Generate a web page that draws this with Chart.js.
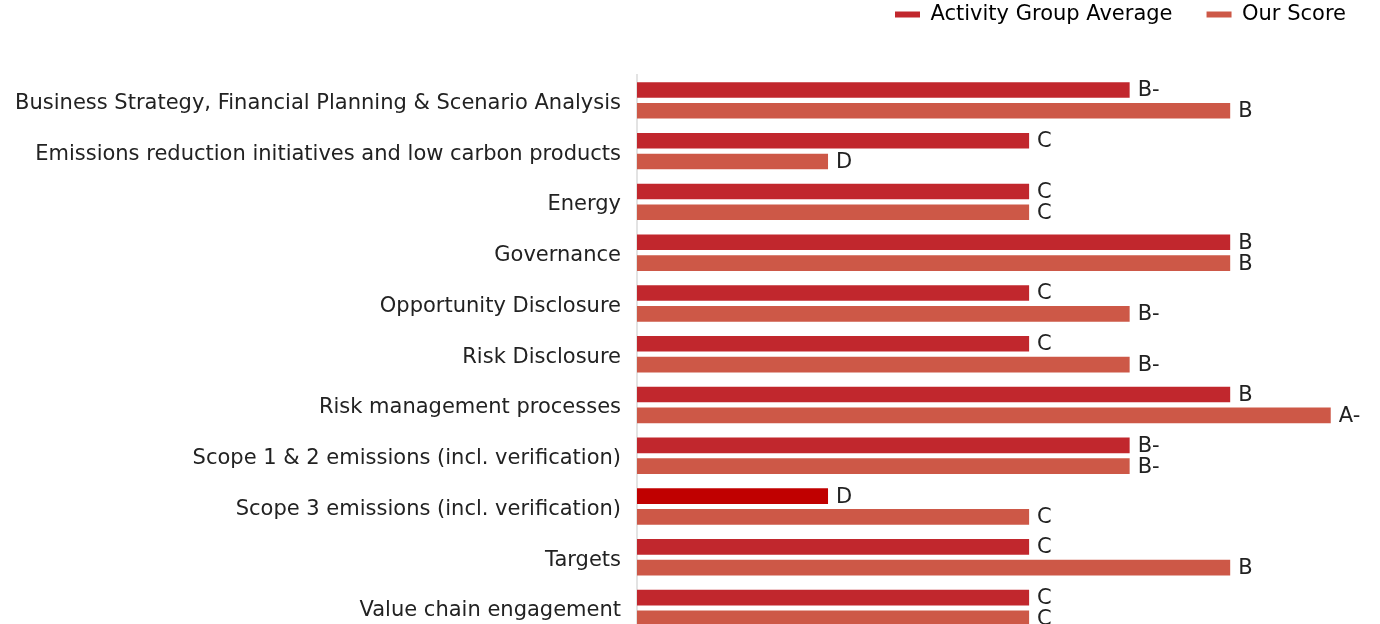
<!DOCTYPE html>
<html>
<head>
<meta charset="utf-8">
<script src="https://cdn.jsdelivr.net/npm/chart.js@4.4.1/dist/chart.umd.min.js"></script>
<style>
  html, body { margin: 0; padding: 0; background: #fff; overflow: hidden; }
  #wrap { width: 1380px; height: 624px; overflow: hidden; }
</style>
</head>
<body>
<div id="wrap"><canvas id="scoreChart" width="1380" height="654"></canvas></div>
<script>
const categories = [
    'Business Strategy, Financial Planning & Scenario Analysis',
    'Emissions reduction initiatives and low carbon products',
    'Energy',
    'Governance',
    'Opportunity Disclosure',
    'Risk Disclosure',
    'Risk management processes',
    'Scope 1 & 2 emissions (incl. verification)',
    'Scope 3 emissions (incl. verification)',
    'Targets',
    'Value chain engagement'
];
const groupGrades = ['B-', 'C', 'C', 'B', 'C', 'C', 'B', 'B-', 'D', 'C', 'C'];
const ourGrades = ['B', 'D', 'C', 'B', 'B-', 'B-', 'A-', 'B-', 'C', 'B', 'C'];
// grade -> score
const gradeValues = { 'D-': 1, 'D': 2, 'C-': 3, 'C': 4, 'B-': 5, 'B': 6, 'A-': 7, 'A': 8 };

const FONT = '"DejaVu Sans", sans-serif';
const TEXT = '#222';
const groupColor = 'rgb(193, 39, 45)';
const ourColor = 'rgb(205, 88, 71)';
const lowColor = 'rgb(192, 0, 0)';

// grade text at the end of each bar
const gradeLabels = {
    id: 'gradeLabels',
    afterDatasetsDraw(chart) {
        const ctx = chart.ctx;
        ctx.save();
        ctx.font = '21px ' + FONT;
        ctx.fillStyle = TEXT;
        ctx.textAlign = 'left';
        ctx.textBaseline = 'middle';
        chart.data.datasets.forEach((ds, i) => {
            chart.getDatasetMeta(i).data.forEach((bar, j) => {
                ctx.fillText(ds.grades[j], bar.x + 8, bar.y + 1);
            });
        });
        ctx.restore();
    }
};

const groupScores = groupGrades.map(g => gradeValues[g]);
const ourScores = ourGrades.map(g => gradeValues[g]);

new Chart(document.getElementById('scoreChart').getContext('2d'), {
    type: 'bar',
    data: {
        labels: categories,
        datasets: [{
            label: 'Activity Group Average',
            data: groupScores,
            grades: groupGrades,
            backgroundColor: groupGrades.map(g => g === 'D' ? lowColor : groupColor),
            categoryPercentage: 0.82,
            barPercentage: 0.75
        }, {
            label: 'Our Score',
            data: ourScores,
            grades: ourGrades,
            backgroundColor: ourColor,
            categoryPercentage: 0.82,
            barPercentage: 0.75
        }]
    },
    options: {
        indexAxis: 'y',
        responsive: false,
        animation: false,
        layout: { padding: { top: -30, right: 0, bottom: 0, left: 0 } },
        plugins: {
            legend: {
                position: 'top',
                align: 'end',
                labels: {
                    font: { family: FONT, size: 21 },
                    color: TEXT,
                    boxWidth: 25,
                    boxHeight: 6,
                    padding: 34,
                    generateLabels(chart) {
                        return chart.data.datasets.map((ds, i) => ({
                            text: ds.label,
                            fillStyle: i === 0 ? groupColor : ourColor,
                            strokeStyle: i === 0 ? groupColor : ourColor,
                            lineWidth: 0,
                            datasetIndex: i
                        }));
                    }
                }
            },
            tooltip: { enabled: false }
        },
        scales: {
            x: {
                display: false,
                min: 0.1,
                max: 7.49
            },
            y: {
                afterFit(scale) { scale.width = 637; },
                grid: { display: false },
                border: { display: true, color: '#e3e3e3', width: 2 },
                ticks: {
                    font: { family: FONT, size: 21 },
                    color: TEXT,
                    padding: 8,
                    labelOffset: 3
                }
            }
        }
    },
    plugins: [gradeLabels, {
        id: 'legendGap',
        beforeInit(chart) {
            const fit = chart.legend.fit;
            chart.legend.fit = function () {
                fit.bind(chart.legend)();
                this.height = 105;
            };
        }
    }]
});
</script>
</body>
</html>
